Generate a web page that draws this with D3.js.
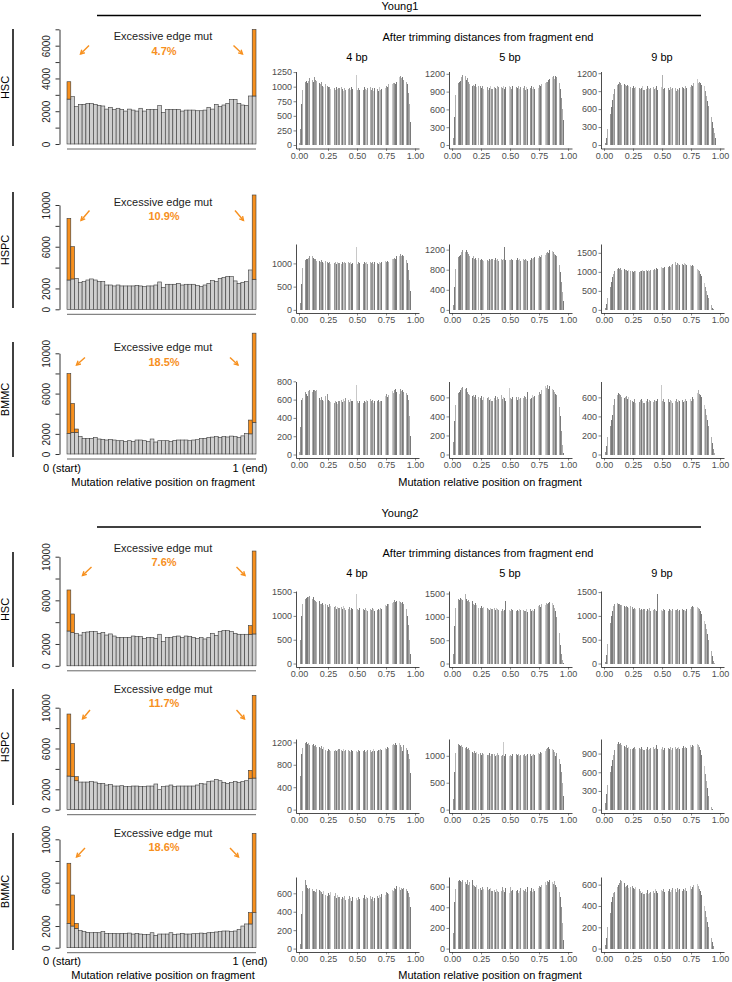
<!DOCTYPE html>
<html>
<head>
<meta charset="utf-8">
<script src="https://cdn.jsdelivr.net/npm/d3@7"></script>
<style>
  body { margin: 0; background: #fff; }
  svg text { font-family: "Liberation Sans", Arial, Helvetica, sans-serif; }
</style>
</head>
<body>
<div id="chart"></div>
<script>
// ---- labels ----
var groupNames = ["Young1", "Young2"];
var cellTypes = ["HSC", "HSPC", "BMMC"];
var trimLabels = ["4 bp", "5 bp", "9 bp"];
var excessPct = ["4.7%", "10.9%", "18.5%", "7.6%", "11.7%", "18.6%"];

// ---- left panels: 50 position bins, grey = background, excess = orange on top ----
var y1HscGray = [2740,2890,2280,2420,2420,2480,2480,2420,2360,2320,2130,2240,2110,2180,2110,2010,2130,2070,2010,2180,2010,2110,2110,2110,2340,1930,2110,2110,2110,2110,2010,2070,2070,2070,2030,2030,2070,2240,2130,2420,2280,2380,2480,2720,2720,2480,2380,2360,2930,2930];
var y1HspcGray = [2810,2910,2970,2590,2650,2810,2910,2810,2650,2650,2330,2330,2240,2330,2240,2240,2240,2240,2300,2240,2170,2240,2240,2330,2620,2110,2400,2400,2400,2490,2330,2400,2400,2400,2270,2200,2330,2490,2750,2650,2970,3040,3160,3130,2720,2490,2590,2650,3770,2880];
var y1BmmcGray = [2050,2150,2150,1750,1550,1550,1550,1650,1490,1450,1390,1450,1390,1320,1320,1250,1320,1250,1390,1390,1320,1250,1490,1190,1320,1320,1320,1250,1350,1390,1390,1390,1320,1390,1420,1520,1550,1650,1680,1720,1650,1720,1690,1780,1720,1650,1800,2050,2000,3140];
var y2HscGray = [3190,3040,2980,2820,3040,3100,3130,3130,2980,3070,2820,2920,2730,2610,2610,2610,2610,2730,2670,2670,2520,2610,2610,2520,2890,2210,2580,2580,2670,2730,2610,2730,2670,2610,2490,2580,2460,2580,2980,2790,3130,3220,3220,3130,2980,2890,2890,2890,2890,2920];
var y2HspcGray = [3300,3240,2840,2710,2710,2710,2750,2710,2580,2580,2420,2480,2320,2320,2350,2260,2260,2320,2320,2260,2260,2320,2320,2520,1960,2260,2320,2420,2260,2320,2320,2320,2320,2320,2420,2580,2520,2750,2810,2970,2840,2650,2580,2650,2750,2650,2750,2840,3040,3100];
var y2BmmcGray = [2250,2000,1790,1570,1480,1420,1380,1420,1380,1480,1320,1320,1320,1290,1320,1320,1350,1260,1320,1260,1230,1200,1380,1140,1260,1260,1260,1380,1230,1260,1320,1260,1260,1290,1290,1350,1320,1380,1420,1450,1480,1540,1540,1510,1540,1690,2000,2190,2190,3230];

// excess at the edge bins: [bin index, value]
var y1HscExcess = [[0,1060],[49,4060]];
var y1HspcExcess = [[0,5910],[1,3100],[49,8080]];
var y1BmmcExcess = [[0,5940],[1,2870],[2,330],[48,1370],[49,8860]];
var y2HscExcess = [[0,3760],[1,1710],[48,790],[49,7600]];
var y2HspcExcess = [[0,6080],[1,3260],[2,400],[48,820],[49,8110]];
var y2BmmcExcess = [[0,5540],[1,2860],[2,460],[48,1040],[49,7320]];

var leftTicksSmall = [0,1000,2000,3000,4000,5000,6000,7000];
var leftLabelsSmall = [0,2000,4000,6000];
var leftTicksBig = [0,2000,4000,6000,8000,10000];
var leftLabelsBig = [0,2000,6000,10000];

// ---- right panels: histograms, 100 bins of width 0.01 ----
var y1Hsc4 = [30,280,700,950,1050,1080,1090,1060,1100,1150,1160,1120,1080,1160,1110,1090,1100,1060,1050,1080,1020,1000,1040,1010,1020,990,1000,960,940,990,970,950,1000,960,980,940,990,960,930,970,950,1000,960,980,940,990,960,1000,970,1200,950,980,940,1000,960,950,990,960,940,980,950,990,940,970,930,980,950,960,920,990,940,960,1000,950,980,1020,990,1040,1010,1060,1050,1070,1060,1040,1080,1200,1170,1190,1150,1170,1120,1130,1080,1050,900,700,400,150,20,0];
var y1Hsc5 = [0,110,480,850,1000,1050,1060,1080,1150,1180,1140,1160,1100,1130,1060,1020,1040,1000,1010,990,1020,980,1000,970,1000,960,990,950,980,940,970,930,960,990,950,940,980,960,950,990,970,940,980,960,990,950,970,980,960,1000,970,950,990,960,940,980,960,1000,950,980,940,960,990,930,970,950,910,960,990,950,970,940,990,1000,960,1010,990,1030,1000,1050,1040,1070,1060,1100,1120,1140,1150,1170,1120,1160,1140,1100,1050,950,800,600,420,150,20,0];
var y1Hsc9 = [0,30,120,260,400,520,640,760,850,930,980,1000,1020,1060,1040,1010,990,1020,1000,980,1000,990,970,1010,960,980,950,970,940,990,960,930,950,980,920,960,940,990,950,930,960,940,970,930,950,980,920,960,940,970,1170,940,960,930,980,950,920,970,940,960,930,950,900,940,920,960,930,970,950,940,980,950,990,1000,970,1010,990,1040,1020,1050,1100,1030,1060,1040,1000,1050,980,900,820,740,650,560,470,380,290,200,120,60,20,0];
var y1Hspc4 = [0,150,550,900,1050,1080,1100,1090,1120,1150,1130,1160,1110,1090,1100,1060,1080,1050,1040,1070,1030,1010,1050,1020,1040,1000,1030,990,1010,1040,1000,1020,990,1030,1000,1010,980,1020,1000,1040,1010,990,1030,1000,1020,980,1010,1040,1000,1350,990,1020,1000,1040,1010,980,1030,1000,1020,990,1010,1040,1000,1030,990,1020,1000,1010,980,1030,1000,1020,1040,1010,1050,1030,1060,1040,1080,1070,1100,1090,1120,1100,1150,1180,1160,1200,1170,1190,1150,1120,1080,1000,850,650,400,150,30,0];
var y1Hspc5 = [0,100,450,820,1000,1060,1080,1100,1150,1200,1180,1160,1200,1150,1110,1080,1060,1040,1070,1020,1040,1000,1030,1010,990,1020,1000,980,1010,990,1000,970,1020,990,1010,980,1000,1030,990,1010,980,1000,1020,990,1010,1250,1000,980,1010,990,1000,1020,990,1010,970,1000,1030,990,1010,980,1000,1020,990,1010,1000,980,1020,1000,1040,1010,1030,1050,1020,1060,1040,1080,1060,1100,1080,1120,1100,1140,1160,1130,1200,1170,1180,1150,1120,1100,1080,1000,900,750,550,350,180,60,10,0];
var y1Hspc9 = [0,40,150,300,450,600,740,860,950,1010,1050,1080,1100,1070,1090,1060,1050,1080,1040,1060,1030,1050,1010,1040,1020,1000,1030,1010,990,1020,1000,1030,1010,1050,1020,1000,1040,1020,1060,1030,1050,1070,1040,1080,1060,1090,1070,1100,1080,1120,1090,1110,1140,1120,1150,1130,1160,1140,1180,1200,1650,1250,1180,1220,1200,1180,1230,1210,1190,1240,1200,1180,1220,1170,1190,1160,1180,1150,1130,1100,1080,1050,1020,950,880,800,700,600,500,400,300,200,120,60,20,0,0,0,0,0];
var y1Bmmc4 = [30,300,600,620,660,680,660,640,690,710,700,680,700,710,690,700,650,620,600,630,600,580,640,610,660,600,590,570,600,580,560,590,570,550,580,560,600,570,610,590,620,580,600,570,610,590,580,600,570,760,580,560,590,570,600,560,580,570,600,590,570,610,580,600,560,590,610,580,600,570,590,580,600,610,640,660,630,650,680,660,690,670,700,720,680,700,660,720,690,700,680,710,670,650,600,420,200,30,0,0];
var y1Bmmc5 = [0,130,350,520,600,650,660,680,700,710,720,690,700,660,640,620,640,610,630,600,620,580,600,660,590,610,570,600,580,620,590,600,570,580,560,600,590,610,570,600,580,600,620,580,600,590,560,600,580,700,590,580,600,570,590,600,570,600,580,590,620,590,610,600,580,660,600,580,590,620,600,610,580,640,620,660,640,680,700,680,720,700,730,690,720,700,690,680,660,640,620,580,500,400,250,100,20,0,0,0];
var y1Bmmc9 = [0,30,90,180,250,300,360,420,520,580,600,630,650,640,620,600,580,590,600,610,580,600,570,590,560,550,580,540,560,590,550,570,580,560,540,570,560,580,550,570,560,580,550,570,560,560,580,550,570,730,560,580,550,570,560,580,550,570,560,540,570,560,580,550,570,560,580,570,550,560,580,560,570,550,580,560,600,580,620,640,650,680,640,620,600,560,520,480,420,360,300,240,180,120,60,20,0,0,0,0];
var y2Hsc4 = [0,500,1000,1250,1300,1350,1380,1400,1390,1410,1380,1360,1390,1340,1320,1300,1280,1320,1260,1240,1280,1230,1250,1200,1230,1180,1240,1200,1160,1220,1180,1200,1150,1190,1170,1130,1180,1150,1200,1160,1130,1170,1140,1180,1120,1160,1140,1170,1130,1450,1150,1120,1160,1130,1100,1150,1120,1170,1130,1110,1160,1140,1120,1170,1150,1110,1160,1130,1150,1120,1160,1140,1180,1200,1230,1210,1260,1240,1280,1300,1270,1290,1330,1300,1320,1280,1310,1290,1270,1300,1260,1240,1150,1000,800,500,200,50,0,0];
var y2Hsc5 = [0,200,800,1200,1350,1380,1360,1400,1380,1370,1420,1480,1380,1350,1370,1320,1300,1340,1280,1260,1300,1250,1200,1230,1180,1240,1200,1220,1170,1150,1200,1170,1140,1190,1160,1130,1180,1150,1200,1170,1140,1160,1130,1170,1120,1150,1350,1160,1130,1150,1120,1170,1140,1110,1160,1130,1150,1120,1170,1140,1110,1150,1130,1120,1160,1100,1140,1170,1130,1150,1120,1170,1200,1180,1230,1250,1220,1270,1250,1290,1260,1300,1280,1290,1310,1270,1290,1250,1200,1120,1000,850,650,400,200,80,20,0,0,0];
var y2Hsc9 = [0,40,180,400,650,850,1000,1100,1200,1250,1270,1280,1260,1250,1230,1220,1240,1200,1180,1210,1190,1170,1200,1160,1180,1140,1170,1150,1190,1140,1160,1130,1150,1120,1140,1170,1110,1150,1130,1160,1100,1140,1120,1150,1130,1110,1450,1120,1100,1130,1110,1140,1120,1100,1130,1110,1150,1120,1100,1140,1110,1130,1120,1150,1110,1130,1100,1140,1120,1130,1110,1140,1130,1170,1150,1190,1200,1180,1210,1200,1190,1170,1150,1100,1050,980,900,820,720,620,500,380,260,150,60,20,0,0,0,0];
var y2Hspc4 = [0,600,1000,1100,1150,1180,1200,1170,1190,1160,1180,1150,1170,1130,1150,1110,1160,1120,1100,1130,1080,1110,1060,1090,1050,1080,1070,1040,1080,1060,1050,1070,1040,1060,1080,1030,1060,1050,1080,1040,1060,1030,1070,1050,1020,1060,1040,1080,1200,1050,1030,1060,1040,1020,1070,1040,1060,1030,1050,1070,1040,1060,1030,1050,1080,1040,1060,1050,1070,1060,1080,1060,1090,1070,1100,1080,1120,1100,1140,1160,1150,1170,1160,1180,1150,1170,1190,1160,1120,1050,1150,1120,1100,1060,1000,900,650,350,80,0];
var y2Hspc5 = [0,200,700,1050,1180,1220,1200,1190,1210,1170,1180,1150,1160,1130,1140,1100,1120,1080,1060,1090,1050,1070,1030,1040,1060,1020,1050,1030,1000,1040,1020,1010,1050,1000,1030,1010,1040,1000,1020,1050,1010,1030,1000,1020,1250,1000,1030,1010,1040,1000,1020,990,1030,1010,1000,1040,1010,1030,1000,1020,1040,1010,1030,990,1020,1040,1010,1030,1000,1020,1040,1020,1050,1030,1060,1040,1070,1060,1080,1100,1090,1120,1140,1160,1130,1150,1120,1100,1080,1000,1050,1000,950,850,700,500,250,80,10,0];
var y2Hspc9 = [0,100,250,400,500,600,700,800,880,950,1000,1050,1080,1060,1070,1040,1050,1020,1000,1030,990,1010,980,1000,970,990,1010,980,1000,960,990,970,1000,980,950,990,970,1000,960,980,990,960,1000,970,990,1040,980,960,990,970,1000,960,990,980,950,990,970,1000,960,990,980,1000,970,990,1010,980,1000,990,1020,990,1010,990,1020,1000,1030,1010,1040,1020,1050,1070,1050,1030,1000,950,880,800,700,580,460,340,220,120,50,10,0,0,0,0,0,0];
var y2Bmmc4 = [0,50,380,620,700,740,690,660,650,660,640,650,620,630,610,650,600,640,620,610,590,620,580,600,570,600,580,610,560,590,570,600,550,580,560,570,540,560,550,570,530,560,540,570,550,520,560,540,570,550,530,560,540,570,530,550,580,540,560,550,530,570,540,560,520,550,540,570,550,580,560,590,570,600,580,610,600,590,620,610,640,620,660,650,680,660,670,640,660,650,660,640,650,620,600,560,450,300,130,0];
var y2Bmmc5 = [0,150,450,580,640,650,660,650,640,660,650,640,630,660,620,640,650,660,620,610,600,620,580,600,590,570,600,580,590,560,600,570,580,590,560,600,570,550,580,560,550,580,560,600,570,550,590,560,570,540,600,560,570,550,580,560,570,540,560,590,550,570,560,580,550,600,570,560,590,550,580,560,600,570,590,610,600,620,610,630,640,620,650,640,660,650,640,630,650,620,600,580,550,500,400,250,80,10,0,0];
var y2Bmmc9 = [0,30,100,200,300,330,440,480,520,530,550,580,600,620,640,630,600,620,580,590,600,570,580,560,590,570,560,580,550,600,560,540,520,530,510,540,520,550,510,520,530,510,540,520,560,540,520,640,530,550,540,560,530,570,550,540,560,530,550,570,540,560,530,570,550,560,580,540,560,550,570,540,560,570,590,560,580,600,570,600,610,590,560,540,500,450,400,350,300,250,200,150,100,60,20,0,0,0,0,0];

// which of the overlaid grey groups each bin belongs to
var binShade = [2,1,0,2,3,1,0,0,2,1,3,2,0,1,1,2,3,0,2,1,0,3,2,2,1,0,1,3,2,0,1,2,0,3,1,1,2,0,3,2,1,0,2,1,3,0,0,2,1,3,2,1,0,3,2,1,0,2,3,1,0,2,1,1,3,0,2,1,0,3,2,0,1,2,3,1,0,2,1,0,3,2,1,0,0,2,3,1,2,0,1,3,2,0,1,2,0,3,1,2];

var histTicks = [
  [0,250,500,750,1000,1250], [0,300,600,900,1200], [0,300,600,900,1200],
  [0,500,1000], [0,400,800,1200], [0,500,1000,1500],
  [0,200,400,600,800], [0,200,400,600], [0,200,400,600],
  [0,500,1000,1500], [0,500,1000,1500], [0,500,1000,1500],
  [0,400,800,1200], [0,500,1000], [0,300,600,900],
  [0,200,400,600], [0,200,400,600], [0,200,400,600]
];
var xTicks = [0, 0.25, 0.5, 0.75, 1];

// ---- assemble ----
var leftGray = [y1HscGray, y1HspcGray, y1BmmcGray, y2HscGray, y2HspcGray, y2BmmcGray];
var leftExcess = [y1HscExcess, y1HspcExcess, y1BmmcExcess, y2HscExcess, y2HspcExcess, y2BmmcExcess];
var hists = [
  [y1Hsc4, y1Hsc5, y1Hsc9], [y1Hspc4, y1Hspc5, y1Hspc9], [y1Bmmc4, y1Bmmc5, y1Bmmc9],
  [y2Hsc4, y2Hsc5, y2Hsc9], [y2Hspc4, y2Hspc5, y2Hspc9], [y2Bmmc4, y2Bmmc5, y2Bmmc9]
];

// layout of each left panel (pixels)
var leftLayout = [
  {y0: 144, yTop: 29.3, max: 7000, line: [29, 146], txt: 40, pct: 54.5, arrowY: [45.5, 54], arrowL: [89, 80.5], arrowR: [233.5, 242.5]},
  {y0: 309.3, yTop: 205, max: 10000, line: [192, 308], txt: 206, pct: 220, arrowY: [210.5, 220.5], arrowL: [89.5, 81], arrowR: [235, 243.5]},
  {y0: 454, yTop: 353.3, max: 10000, line: [342, 457], txt: 351, pct: 365.5, arrowY: [357.5, 365], arrowL: [85, 76.5], arrowR: [230, 238]},
  {y0: 665.8, yTop: 556.7, max: 10000, line: [552, 667], txt: 552, pct: 566, arrowY: [567, 575.5], arrowL: [91.5, 82.5], arrowR: [236.5, 245]},
  {y0: 809.7, yTop: 707.7, max: 10000, line: [689, 805], txt: 693, pct: 706.5, arrowY: [710, 719], arrowL: [90, 82.5], arrowR: [236.5, 244.5]},
  {y0: 947.7, yTop: 839.3, max: 10000, line: [833, 950], txt: 837, pct: 850.5, arrowY: [848, 857], arrowL: [85, 76.5], arrowR: [230, 238.5]}
];
var rightRows = [[71.5, 148.5], [244, 313], [381.5, 458], [591, 667], [739, 813], [877, 952]];
var rightX0 = [299, 452, 604];
var rightW = 116;

var orange = "#f7901e";
var shadeColor = d3.scaleOrdinal().domain([0,1,2,3]).range(["#7a7a7a", "#959595", "#afafaf", "#c8c8c8"]);

var svg = d3.select("#chart").append("svg")
  .attr("width", 732)
  .attr("height", 982);

// group headers
[[groupNames[0], 10, 15.5, 40.5, 60.5], [groupNames[1], 517, 527, 557, 577]].forEach(function(h) {
  svg.append("text").attr("x", 400).attr("y", h[1]).attr("text-anchor", "middle")
    .style("font-size", "11px").text(h[0]);
  svg.append("line").attr("x1", 97).attr("x2", 701).attr("y1", h[2]).attr("y2", h[2])
    .attr("stroke", "#000").attr("stroke-width", 1.5);
  svg.append("text").attr("x", 488).attr("y", h[3]).attr("text-anchor", "middle")
    .style("font-size", "11px").text("After trimming distances from fragment end");
  trimLabels.forEach(function(t, j) {
    svg.append("text").attr("x", rightX0[j] + rightW / 2).attr("y", h[4])
      .attr("text-anchor", "middle").style("font-size", "11px").text(t);
  });
});

// left panels
var xBand = d3.scaleBand().domain(d3.range(50)).range([67, 256]);

leftLayout.forEach(function(L, p) {
  var g = svg.append("g");
  var y = d3.scaleLinear().domain([0, L.max]).range([L.y0, L.yTop]);
  var ticks = p === 0 ? leftTicksSmall : leftTicksBig;
  var labels = p === 0 ? leftLabelsSmall : leftLabelsBig;

  // row label with bar
  g.append("line").attr("x1", 13).attr("x2", 13).attr("y1", L.line[0]).attr("y2", L.line[1])
    .attr("stroke", "#000").attr("stroke-width", 1.5);
  g.append("text")
    .attr("transform", "translate(9," + ((L.line[0] + L.line[1]) / 2) + ") rotate(-90)")
    .attr("text-anchor", "middle").style("font-size", "11px")
    .text(cellTypes[p % 3]);

  var data = leftGray[p].map(function(v, i) { return {i: i, gray: v, extra: 0}; });
  leftExcess[p].forEach(function(e) { data[e[0]].extra = e[1]; });

  g.selectAll(".gbar").data(data).enter().append("rect")
    .attr("x", function(d) { return xBand(d.i); })
    .attr("width", xBand.bandwidth())
    .attr("y", function(d) { return y(d.gray); })
    .attr("height", function(d) { return y(0) - y(d.gray); })
    .attr("fill", "#cfcfcf").attr("stroke", "#3a3a3a").attr("stroke-width", 0.6);

  g.selectAll(".obar").data(data.filter(function(d) { return d.extra > 0; })).enter().append("rect")
    .attr("x", function(d) { return xBand(d.i); })
    .attr("width", xBand.bandwidth())
    .attr("y", function(d) { return y(d.gray + d.extra); })
    .attr("height", function(d) { return y(d.gray) - y(d.gray + d.extra); })
    .attr("fill", orange).attr("stroke", "#3a3a3a").attr("stroke-width", 0.6);

  var ax = g.append("g").attr("transform", "translate(59.5,0)")
    .call(d3.axisLeft(y).tickValues(ticks).tickSize(4).tickSizeOuter(0)
      .tickFormat(function(d) { return labels.indexOf(d) >= 0 ? d : ""; }));
  ax.select(".domain").attr("stroke-width", 0.8);
  ax.selectAll(".tick line").attr("stroke-width", 0.8);
  ax.selectAll(".tick text")
    .attr("x", null).attr("dy", null)
    .attr("transform", "translate(-10,0) rotate(-90)")
    .attr("text-anchor", "middle")
    .style("font-size", "10px").style("font-family", "'Liberation Sans', Arial, sans-serif")
    .attr("fill", "#222");

  // x axis line
  g.append("line").attr("x1", 67).attr("x2", 256).attr("y1", L.y0 + 5).attr("y2", L.y0 + 5)
    .attr("stroke", "#555").attr("stroke-width", 0.9);

  g.append("text").attr("x", 163).attr("y", L.txt).attr("text-anchor", "middle")
    .style("font-size", "11px").attr("fill", "#222").text("Excessive edge mut");
  g.append("text").attr("x", 164).attr("y", L.pct).attr("text-anchor", "middle")
    .style("font-size", "11px").style("font-weight", "bold").attr("fill", orange).text(excessPct[p]);

  [L.arrowL, L.arrowR].forEach(function(ar) {
    var x1 = ar[0], y1 = L.arrowY[0], x2 = ar[1], y2 = L.arrowY[1];
    var ang = Math.atan2(y2 - y1, x2 - x1), hl = 4.5;
    g.append("line").attr("x1", x1).attr("y1", y1).attr("x2", x2).attr("y2", y2)
      .attr("stroke", orange).attr("stroke-width", 1.4);
    g.append("path")
      .attr("d", "M" + (x2 - hl * Math.cos(ang - 0.5)) + "," + (y2 - hl * Math.sin(ang - 0.5)) +
        "L" + x2 + "," + y2 +
        "L" + (x2 - hl * Math.cos(ang + 0.5)) + "," + (y2 - hl * Math.sin(ang + 0.5)))
      .attr("fill", "none").attr("stroke", orange).attr("stroke-width", 1.4);
  });

  if (p % 3 === 2) {
    g.append("text").attr("x", 62).attr("y", L.y0 + 17.5).attr("text-anchor", "middle")
      .style("font-size", "11px").text("0 (start)");
    g.append("text").attr("x", 250).attr("y", L.y0 + 17.5).attr("text-anchor", "middle")
      .style("font-size", "11px").text("1 (end)");
    g.append("text").attr("x", 163).attr("y", L.y0 + 31.5).attr("text-anchor", "middle")
      .style("font-size", "11px").text("Mutation relative position on fragment");
    g.append("text").attr("x", 490).attr("y", L.y0 + 31.5).attr("text-anchor", "middle")
      .style("font-size", "11px").text("Mutation relative position on fragment");
  }
});

// right panels
hists.forEach(function(row, r) {
  var top = rightRows[r][0], bottom = rightRows[r][1];
  row.forEach(function(vals, j) {
    var g = svg.append("g");
    var x0 = rightX0[j];
    var x = d3.scaleLinear().domain([-0.026, 1.034]).range([x0 - 3, x0 + 120]);
    var m = d3.max(vals);
    var y = d3.scaleLinear().domain([-0.05 * m, 1.05 * m]).range([bottom, top]);

    // bars with a thin white gap where the grey group changes
    g.selectAll("rect").data(vals).enter().append("rect")
      .attr("x", function(d, i) { return x(i / 100); })
      .attr("width", function(d, i) {
        var w = x((i + 1) / 100) - x(i / 100);
        return (i < 99 && binShade[i + 1] !== binShade[i]) ? w - 0.4 : w;
      })
      .attr("y", function(d) { return y(d); })
      .attr("height", function(d) { return y(0) - y(d); })
      .attr("fill", function(d, i) { return shadeColor(binShade[i]); })
      .attr("shape-rendering", "crispEdges");

    var ay = g.append("g").attr("transform", "translate(" + (x0 - 3) + ",0)")
      .call(d3.axisLeft(y).tickValues(histTicks[r * 3 + j]).tickFormat(d3.format("d"))
        .tickSize(2.5).tickPadding(1.5).tickSizeOuter(0));
    var axb = g.append("g").attr("transform", "translate(0," + bottom + ")")
      .call(d3.axisBottom(x).tickValues(xTicks).tickFormat(d3.format(".2f")).tickSize(2.5).tickPadding(1.5).tickSizeOuter(0));
    [ay, axb].forEach(function(a) {
      a.select(".domain").attr("stroke-width", 0.7);
      a.selectAll(".tick line").attr("stroke", "#333").attr("stroke-width", 0.6);
      a.selectAll(".tick text").attr("fill", "#4d4d4d")
        .style("font-size", "9px").style("font-family", "'Liberation Sans', Arial, sans-serif");
    });
  });
});
</script>
</body>
</html>
